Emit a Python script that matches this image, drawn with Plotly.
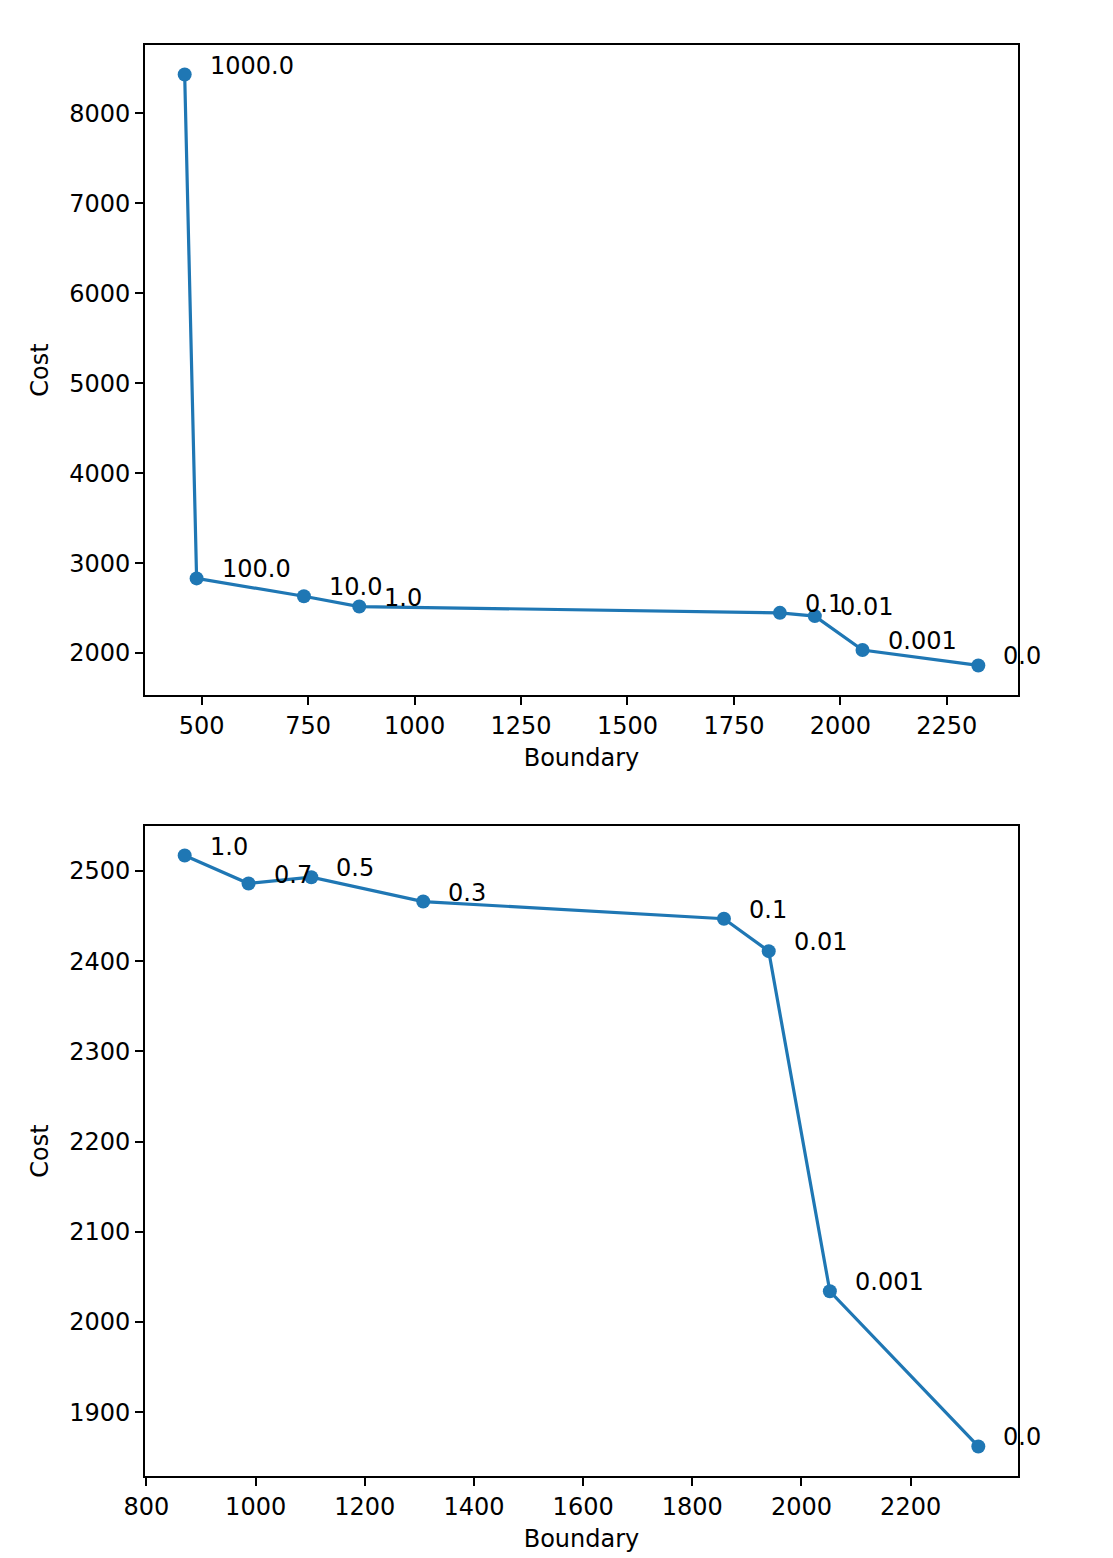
import plotly.graph_objects as go

# ---- data ----
top_lambda = ["1000.0", "100.0", "10.0", "1.0", "0.1", "0.01", "0.001", "0.0"]
top_boundary = [460, 488, 740, 870, 1858, 1940, 2052, 2324]
top_cost = [8432, 2830, 2631, 2517, 2447, 2411, 2034, 1862]

bottom_lambda = ["1.0", "0.7", "0.5", "0.3", "0.1", "0.01", "0.001", "0.0"]
bottom_boundary = [870, 987, 1102, 1307, 1858, 1940, 2052, 2324]
bottom_cost = [2517, 2486, 2493, 2466, 2447, 2411, 2034, 1862]

top_xticks = [500, 750, 1000, 1250, 1500, 1750, 2000, 2250]
top_yticks = [2000, 3000, 4000, 5000, 6000, 7000, 8000]
bottom_xticks = [800, 1000, 1200, 1400, 1600, 1800, 2000, 2200]
bottom_yticks = [1900, 2000, 2100, 2200, 2300, 2400, 2500]

COLOR = "#1f77b4"
FONT = "DejaVu Sans"
FS = 24
W, H = 1113, 1558


def pad(vals, m=0.05):
    lo, hi = min(vals), max(vals)
    s = hi - lo
    return [lo - m * s, hi + m * s]


fig = go.Figure()

fig.add_trace(go.Scatter(x=top_boundary, y=top_cost, mode="lines+markers",
                         line=dict(color=COLOR, width=3.2),
                         marker=dict(color=COLOR, size=14),
                         xaxis="x", yaxis="y", showlegend=False))
fig.add_trace(go.Scatter(x=bottom_boundary, y=bottom_cost, mode="lines+markers",
                         line=dict(color=COLOR, width=3.2),
                         marker=dict(color=COLOR, size=14),
                         xaxis="x2", yaxis="y2", showlegend=False))

annotations = []
for xs, ys, labs, xr, yr in [(top_boundary, top_cost, top_lambda, "x", "y"),
                             (bottom_boundary, bottom_cost, bottom_lambda, "x2", "y2")]:
    for xv, yv, t in zip(xs, ys, labs):
        annotations.append(dict(x=xv, y=yv, xref=xr, yref=yr, text=t,
                                showarrow=False, xanchor="left", yanchor="middle",
                                xshift=23, yshift=9,
                                font=dict(family=FONT, size=FS, color="black")))

L, R = 145 / W, 1018 / W
top_dom = [(H - 695) / H, (H - 45) / H]
bot_dom = [(H - 1476) / H, (H - 826) / H]

axis_common = dict(showline=True, mirror=True, linecolor="black", linewidth=1.6,
                   ticks="outside", ticklen=8, tickwidth=1.6, tickcolor="black",
                   showgrid=False, zeroline=False, automargin=False,
                   tickfont=dict(family=FONT, size=FS, color="black"))

fig.update_layout(
    width=W, height=H,
    margin=dict(l=0, r=0, t=0, b=0),
    paper_bgcolor="white", plot_bgcolor="white",
    annotations=annotations,
    xaxis=dict(domain=[L, R], anchor="y", range=pad(top_boundary),
               tickvals=top_xticks,
               title=dict(text="Boundary", font=dict(family=FONT, size=FS, color="black"), standoff=11),
               **axis_common),
    yaxis=dict(domain=top_dom, anchor="x", range=pad(top_cost),
               tickvals=top_yticks,
               title=dict(text="Cost", font=dict(family=FONT, size=FS, color="black"), standoff=14),
               **axis_common),
    xaxis2=dict(domain=[L, R], anchor="y2", range=pad(bottom_boundary),
                tickvals=bottom_xticks,
                title=dict(text="Boundary", font=dict(family=FONT, size=FS, color="black"), standoff=11),
                **axis_common),
    yaxis2=dict(domain=bot_dom, anchor="x2", range=pad(bottom_cost),
                tickvals=bottom_yticks,
                title=dict(text="Cost", font=dict(family=FONT, size=FS, color="black"), standoff=14),
                **axis_common),
)

fig.write_html("out.html", config={"displayModeBar": False},
               post_script="document.body.style.margin='0';")
